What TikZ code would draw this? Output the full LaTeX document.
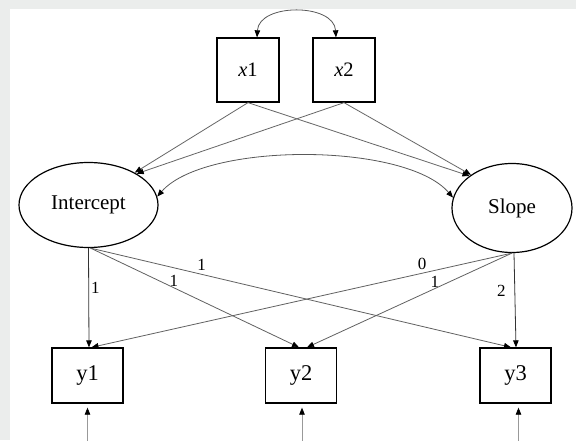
\documentclass[tikz,border=0pt]{standalone}
\usepackage{fontspec}
\setmainfont{Liberation Serif}
\usetikzlibrary{arrows.meta,shapes.geometric}
\definecolor{pagegray}{HTML}{EBEDEC}
\begin{document}
\begin{tikzpicture}[x=1pt,y=1pt,
  tip/.style={-{Triangle[length=7pt,width=5.5pt,color=black]}},
  bothtips/.style={{Triangle[length=7pt,width=5.5pt,color=black]}-{Triangle[length=7pt,width=5.5pt,color=black]}},
  obsbox/.style={draw=black,line width=1.3pt,rectangle,minimum width=71pt,minimum height=55pt,inner sep=0pt,font=\fontsize{22.5}{24}\selectfont},
  covbox/.style={draw=black,line width=1.3pt,rectangle,minimum width=62pt,minimum height=64pt,inner sep=0pt,font=\fontsize{20.5}{22}\selectfont},
  latent/.style={draw=black,line width=1.2pt,ellipse,inner sep=0pt,font=\fontsize{21}{23}\selectfont},
  path/.style={tip,draw=black!60,line width=0.8pt},
  loading/.style={tip,draw=black!62,line width=0.8pt},
  vertload/.style={tip,draw=black!80,line width=0.8pt},
  resid/.style={tip,draw=black!40,line width=0.8pt},
  coef/.style={font=\fontsize{17}{18}\selectfont,text=black}
]
\useasboundingbox (0,0) rectangle (576,440);
\fill[pagegray] (0,0) rectangle (576,440);
\fill[white] (10,0) rectangle (576,431);

% exogenous covariates
\node[covbox] (x1) at (248,370) {\textit{x}1};
\node[covbox] (x2) at (344,370) {\textit{x}2};

% growth factors
\node[latent,minimum width=139pt,minimum height=85pt] (I) at (88.5,235) {Intercept};
\node[latent,minimum width=120pt,minimum height=89pt] (S) at (512,232) {Slope};

% repeated measures
\node[obsbox] (y1) at (87.5,64.5) {y1};
\node[obsbox] (y2) at (301,64.5) {y2};
\node[obsbox] (y3) at (515.5,64.5) {y3};

% covariance between covariates
\draw[bothtips,draw=black!65,line width=0.8pt]
  ([xshift=9pt]x1.north) .. controls (259,437) and (334,437) .. ([xshift=-8pt]x2.north);

% covariance between growth factors
\draw[bothtips,draw=black!65,line width=0.8pt]
  (I.7) .. controls (205,298) and (405,298) .. (S.170);

% regressions of the growth factors on the covariates
\draw[path] (x1.south) -- (I.35);
\draw[path] (x2.south) -- (I.33);
\draw[path] (x1.south) -- (S.143);
\draw[path] (x2.south) -- (S.141);

% factor loadings
\draw[vertload] (I.south) -- ([xshift=1.5pt]y1.north)
  node[coef,pos=.4,right,inner sep=2pt] {1};
\draw[loading] ([xshift=2pt]I.south) -- ([xshift=-2pt]y2.north)
  node[coef,pos=.4,above,inner sep=0.5pt] {1};
\draw[loading] ([xshift=2pt]I.south) -- ([xshift=-4.5pt]y3.north)
  node[coef,pos=.264,above] {1};
\draw[loading] (S.south) -- ([xshift=4pt]y1.north)
  node[coef,pos=.214,above] {0};
\draw[loading] (S.south) -- ([xshift=6pt]y2.north)
  node[coef,pos=.376,above,inner sep=0.5pt] {1};
\draw[vertload] ([xshift=2pt]S.south) -- ([xshift=0.5pt]y3.north)
  node[coef,pos=.4,left,xshift=-5.5pt] {2};

% residuals
\coordinate (e1) at ([yshift=-37pt]y1.south);
\coordinate (e2) at ([xshift=1pt,yshift=-37pt]y2.south);
\coordinate (e3) at ([xshift=3pt,yshift=-37pt]y3.south);
\draw[resid] (e1) -- ([yshift=-4pt]y1.south);
\draw[resid] (e2) -- ([xshift=1pt,yshift=-4pt]y2.south);
\draw[resid] (e3) -- ([xshift=3pt,yshift=-4pt]y3.south);
\end{tikzpicture}
\end{document}
